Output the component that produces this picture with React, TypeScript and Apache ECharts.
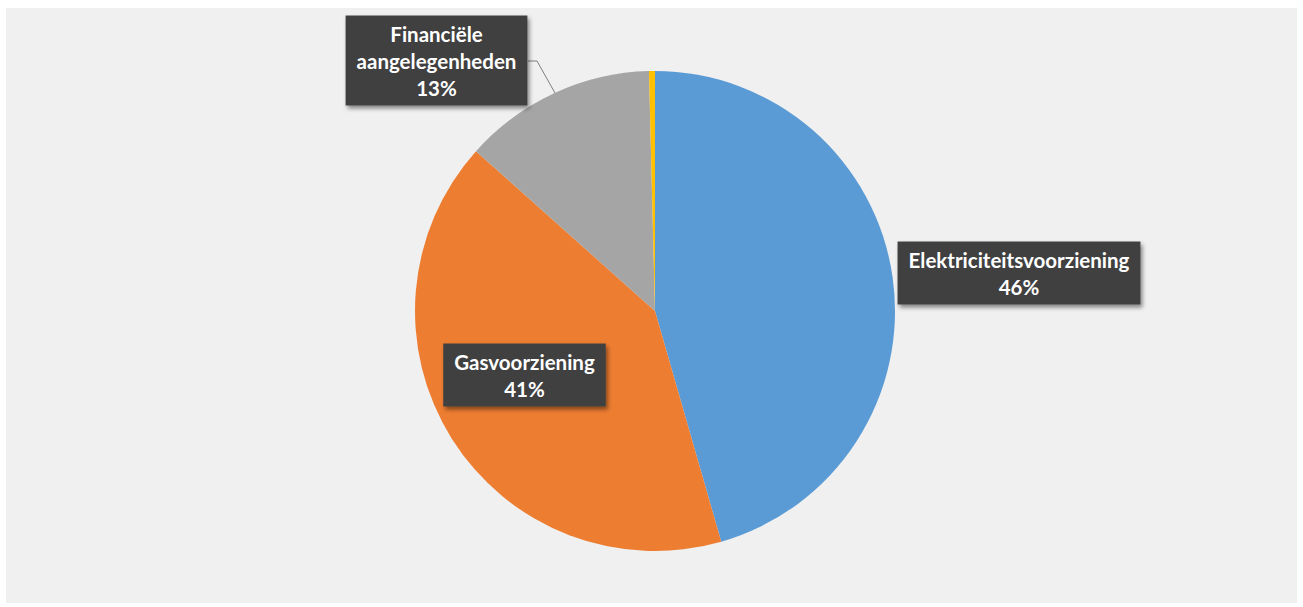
import React, { useEffect, useRef } from "react";
import * as echarts from "echarts";

const categories = ["Elektriciteitsvoorziening", "Gasvoorziening", "Financiële aangelegenheden", "Overig"];
const values = [45.55, 41.05, 13.0, 0.4];
const colors = ["#5B9BD5", "#ED7D31", "#A5A5A5", "#FFC000"];

export default function App() {
  const ref = useRef<HTMLDivElement>(null);
  useEffect(() => {
    document.body.style.margin = "0";
    const chart = echarts.init(ref.current!, null, { renderer: "svg" });
    const labelStyle = {
      color: "#FFFFFF",
      fontFamily: "Lato, 'Open Sans', sans-serif",
      fontWeight: "bold" as const,
      fontSize: 20.5,
      lineHeight: 27,
      backgroundColor: "#404040",
      padding: [5, 11, 4, 11],
      align: "center" as const,
      shadowColor: "rgba(0,0,0,0.45)",
      shadowBlur: 4,
      shadowOffsetX: 2,
      shadowOffsetY: 3,
    };
    chart.setOption({
      animation: false,
      backgroundColor: "#FFFFFF",
      graphic: [
        {
          type: "rect",
          z: -10,
          silent: true,
          shape: { x: 6, y: 8, width: 1291, height: 595 },
          style: { fill: "#F0F0F0" },
        },
      ],
      series: [
        {
          type: "pie",
          center: [655, 311],
          radius: [0, 240],
          startAngle: 90,
          clockwise: true,
          avoidLabelOverlap: false,
          data: categories.map((name, i) => ({
            name,
            value: values[i],
            itemStyle: { color: colors[i] },
            label: { show: i < 3 },
            labelLine: { show: i === 2 },
          })),
          label: {
            position: "outside",
            formatter: (p: any) =>
              `${p.dataIndex === 2 ? p.name.replace(" ", "\n") : p.name}\n${Math.round(p.percent)}%`,
            ...labelStyle,
          },
          labelLine: {
            lineStyle: { color: "#7F7F7F", width: 1 },
          },
          labelLayout: (params: any) => {
            const i = params.dataIndex;
            if (i === 0) return { x: 1019, y: 273, align: "center", verticalAlign: "middle" };
            if (i === 1) return { x: 524.5, y: 375, align: "center", verticalAlign: "middle" };
            if (i === 2)
              return {
                x: 436.5,
                y: 60.5,
                align: "center",
                verticalAlign: "middle",
                labelLinePoints: [
                  [528, 61],
                  [537, 61],
                  [555, 93],
                ],
              };
            return {};
          },
        },
      ],
    });
    return () => chart.dispose();
  }, []);
  return <div ref={ref} style={{ width: 1303, height: 607 }} />;
}
